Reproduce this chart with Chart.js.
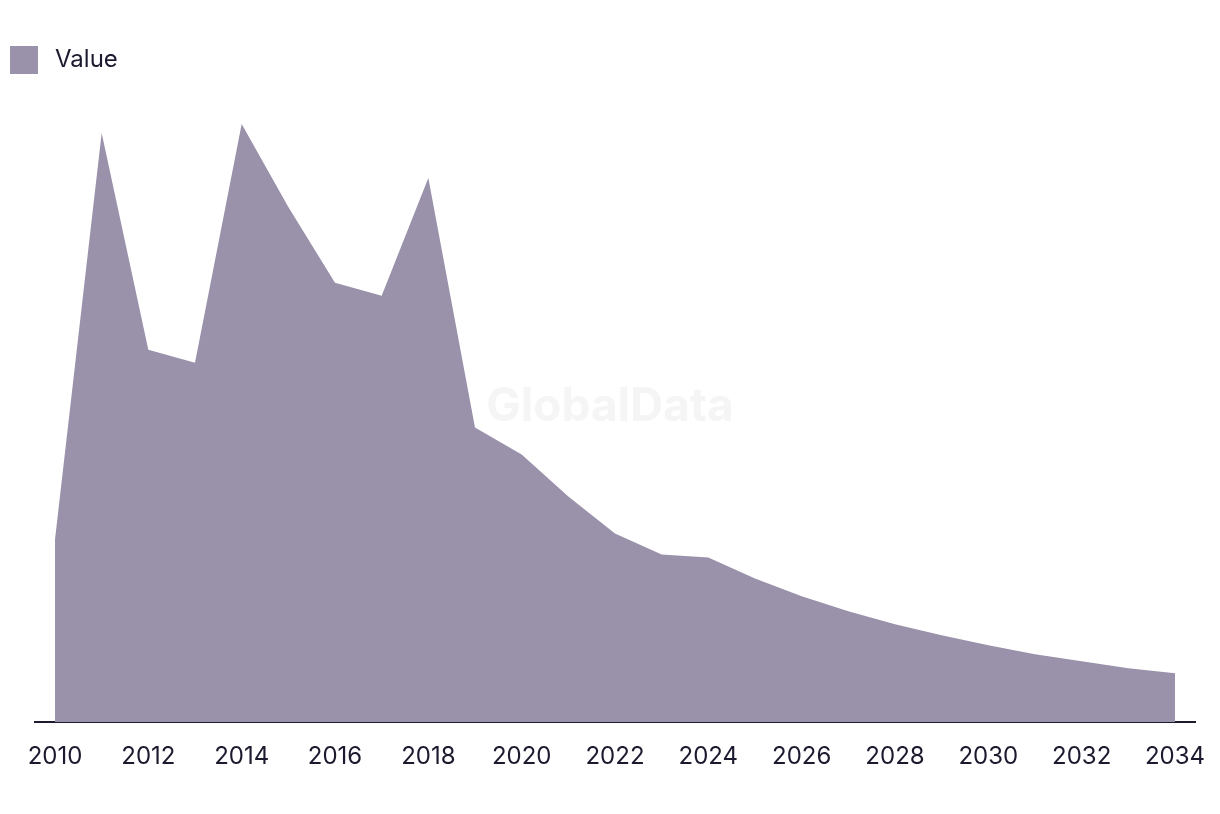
<!DOCTYPE html>
<html>
<head>
<meta charset="utf-8">
<script src="https://cdn.jsdelivr.net/npm/chart.js@4/dist/chart.umd.min.js"></script>
<style>
  html, body { margin: 0; padding: 0; background: #fff; }
  #wrap { position: relative; width: 1220px; height: 814px; }
  #legend { position: absolute; left: 10px; top: 46px; height: 28px; display: flex; align-items: center;
    font-family: Inter, Roboto, "Liberation Sans", sans-serif; font-size: 24px; color: #1b1a2e; }
  #legend .box { width: 28px; height: 28px; margin-right: 17px; }
  #legend span { position: relative; top: -2px; }
</style>
</head>
<body>
<div id="wrap">
  <canvas id="chart" width="1220" height="814"></canvas>
  <div id="legend"></div>
</div>
<script>
// values
let years = [2010, 2011, 2012, 2013, 2014, 2015, 2016, 2017, 2018, 2019, 2020, 2021,
  2022, 2023, 2024, 2025, 2026, 2027, 2028, 2029, 2030, 2031, 2032, 2033, 2034];
let values = [183, 590, 373, 360, 599, 516, 440, 427, 545, 295, 268, 226,
  189, 168, 165, 144, 126, 111, 98, 87, 77, 68, 61, 54, 49];
let tickYears = [2010, 2012, 2014, 2016, 2018, 2020, 2022, 2024, 2026, 2028, 2030, 2032, 2034];
let seriesName = "Value";

let areaColor = "#9a91aa";
let inkColor = "#1b1a2e";
let fontFamily = "Inter, Roboto, 'Liberation Sans', sans-serif";

let points = years.map((y, i) => ({ x: y, y: values[i] }));

// faint watermark behind the area
const watermark = {
  id: "watermark",
  beforeDatasetsDraw(chart) {
    let ctx = chart.ctx;
    ctx.save();
    ctx.font = "bold 46px " + fontFamily;
    ctx.fillStyle = "#f5f5f5";
    ctx.textAlign = "center";
    ctx.textBaseline = "middle";
    ctx.fillText("GlobalData", 610, 407);
    ctx.restore();
  }
};

let legend = document.getElementById("legend");
legend.innerHTML = `<div class="box" style="background:${areaColor}"></div><span>${seriesName}</span>`;

new Chart(document.getElementById("chart"), {
  type: "line",
  data: {
    datasets: [{
      label: seriesName,
      data: points,
      backgroundColor: areaColor,
      borderWidth: 0,
      pointRadius: 0,
      fill: "origin",
      tension: 0
    }]
  },
  options: {
    responsive: false,
    animation: false,
    layout: { padding: { top: 123, left: 35, right: 25, bottom: 23 } },
    plugins: { legend: { display: false }, tooltip: { enabled: false } },
    scales: {
      x: {
        type: "linear",
        min: 2010 - 20 / (1120 / 24),
        max: 2034 + 20 / (1120 / 24),
        afterBuildTicks(axis) {
          axis.ticks = tickYears.map(v => ({ value: v }));
        },
        afterFit(axis) {
          // labels have room outside the axis, keep the padding fixed
          axis.paddingLeft = 0;
          axis.paddingRight = 0;
        },
        grid: { display: false, drawTicks: false },
        border: { display: true, color: inkColor, width: 2 },
        ticks: {
          padding: 20,
          color: inkColor,
          font: { family: fontFamily, size: 24 },
          autoSkip: false,
          maxRotation: 0,
          callback: v => String(v)
        }
      },
      y: {
        display: false,
        min: 0,
        max: 600
      }
    }
  },
  plugins: [watermark]
});
</script>
</body>
</html>
